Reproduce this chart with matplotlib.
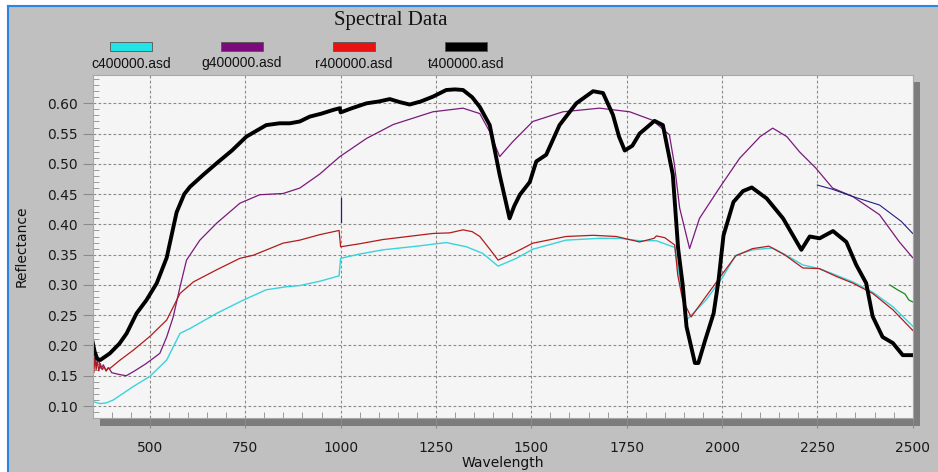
import matplotlib.pyplot as plt
from matplotlib.patches import Rectangle
from matplotlib.lines import Line2D
from matplotlib.ticker import MultipleLocator

# reflectance spectra
wl_c = [350, 352, 369, 385, 404, 430, 456, 500, 544, 579, 605, 675, 745, 805, 858, 893, 945, 996,
        1000, 1050, 1111, 1200, 1277, 1330, 1373, 1413, 1461, 1504, 1591, 1679, 1731, 1784, 1828,
        1876, 1907, 1958, 2002, 2036, 2080, 2133, 2166, 2212, 2255, 2300, 2343, 2395, 2448, 2500]
r_c = [0.110, 0.107, 0.104, 0.105, 0.110, 0.121, 0.132, 0.149, 0.176, 0.220, 0.228, 0.253, 0.275,
       0.292, 0.297, 0.299, 0.306, 0.315, 0.344, 0.351, 0.358, 0.364, 0.370, 0.363, 0.352, 0.331,
       0.344, 0.359, 0.374, 0.377, 0.377, 0.373, 0.373, 0.362, 0.242, 0.275, 0.313, 0.349, 0.358,
       0.361, 0.350, 0.333, 0.327, 0.316, 0.305, 0.288, 0.264, 0.232]

wl_g = [350, 355, 360, 366, 372, 378, 385, 392, 400, 420, 438, 460, 490, 526, 544, 561, 579, 596,
        631, 675, 736, 788, 849, 893, 945, 998, 1068, 1138, 1242, 1321, 1365, 1391, 1417, 1452,
        1504, 1583, 1679, 1758, 1818, 1862, 1875, 1889, 1915, 1941, 1993, 2046, 2100, 2133, 2170,
        2203, 2246, 2290, 2343, 2413, 2465, 2500]
r_g = [0.165, 0.180, 0.170, 0.175, 0.162, 0.168, 0.158, 0.163, 0.155, 0.152, 0.150, 0.158, 0.170,
       0.187, 0.214, 0.247, 0.297, 0.341, 0.374, 0.402, 0.435, 0.449, 0.451, 0.460, 0.483, 0.512,
       0.542, 0.565, 0.586, 0.592, 0.583, 0.553, 0.512, 0.537, 0.570, 0.586, 0.592, 0.586, 0.572,
       0.548, 0.500, 0.427, 0.360, 0.410, 0.460, 0.509, 0.545, 0.559, 0.545, 0.520, 0.493, 0.460,
       0.446, 0.416, 0.371, 0.345]

wl_r = [350, 353, 356, 359, 362, 366, 370, 375, 380, 385, 390, 395, 420, 456, 500, 544, 579, 614,
        675, 736, 771, 849, 893, 945, 996, 1000, 1050, 1111, 1242, 1286, 1321, 1345, 1365, 1390,
        1413, 1461, 1504, 1591, 1662, 1723, 1784, 1822, 1828, 1850, 1876, 1884, 1897, 1919, 1958,
        2002, 2036, 2080, 2123, 2166, 2212, 2255, 2300, 2343, 2395, 2448, 2500]
r_r = [0.170, 0.155, 0.180, 0.160, 0.175, 0.158, 0.170, 0.160, 0.165, 0.158, 0.163, 0.162, 0.175,
       0.192, 0.215, 0.242, 0.286, 0.305, 0.325, 0.344, 0.349, 0.369, 0.374, 0.383, 0.390, 0.363,
       0.368, 0.375, 0.385, 0.386, 0.391, 0.388, 0.380, 0.360, 0.341, 0.355, 0.369, 0.380, 0.382,
       0.380, 0.371, 0.377, 0.381, 0.378, 0.366, 0.316, 0.275, 0.247, 0.281, 0.319, 0.348, 0.360,
       0.364, 0.349, 0.328, 0.327, 0.314, 0.303, 0.286, 0.259, 0.225]

wl_t = [350, 355, 362, 370, 395, 420, 439, 465, 491, 518, 544, 570, 590, 605, 640, 675, 715, 753,
        805, 840, 867, 893, 919, 950, 980, 998, 1000, 1030, 1068, 1100, 1129, 1155, 1181, 1210,
        1242, 1277, 1300, 1321, 1345, 1365, 1391, 1417, 1443, 1455, 1470, 1496, 1513, 1539, 1574,
        1618, 1662, 1688, 1714, 1730, 1745, 1765, 1784, 1823, 1845, 1871, 1885, 1897, 1907, 1929,
        1938, 1956, 1978, 1991, 2004, 2030, 2055, 2078, 2117, 2160, 2208, 2230, 2256, 2291, 2326,
        2352, 2378, 2395, 2421, 2448, 2474, 2500]
r_t = [0.205, 0.190, 0.178, 0.176, 0.187, 0.203, 0.220, 0.253, 0.275, 0.303, 0.345, 0.420, 0.450,
       0.462, 0.482, 0.501, 0.522, 0.545, 0.564, 0.567, 0.567, 0.570, 0.578, 0.583, 0.589, 0.592,
       0.585, 0.592, 0.600, 0.603, 0.607, 0.602, 0.598, 0.603, 0.611, 0.622, 0.623, 0.622, 0.610,
       0.594, 0.564, 0.482, 0.410, 0.430, 0.449, 0.470, 0.504, 0.515, 0.564, 0.600, 0.620, 0.617,
       0.581, 0.545, 0.522, 0.530, 0.550, 0.571, 0.564, 0.482, 0.360, 0.300, 0.231, 0.171, 0.171,
       0.209, 0.253, 0.308, 0.382, 0.437, 0.455, 0.461, 0.443, 0.410, 0.358, 0.380, 0.377, 0.389,
       0.371, 0.333, 0.303, 0.248, 0.214, 0.204, 0.184, 0.184]

# stray traces
wl_navy = [2250, 2290, 2343, 2413, 2470, 2500]
r_navy = [0.465, 0.458, 0.446, 0.432, 0.405, 0.385]
wl_spike = [1000, 1000]
r_spike = [0.404, 0.443]
wl_green = [2440, 2460, 2480, 2490, 2500]
r_green = [0.300, 0.292, 0.285, 0.275, 0.272]

names = ['c400000.asd', 'g400000.asd', 'r400000.asd', 't400000.asd']
line_cols = ['#38d4dc', '#7a1a7a', '#b01c1c', '#000000']
key_cols = ['#22e4e6', '#7b0a7b', '#e81212', '#000000']

W, H = 938, 472
fig = plt.figure(figsize=(W / 100, H / 100), dpi=100)
fig.patch.set_facecolor('white')

# grey panel with blue frame
fig.patches.append(Rectangle((7.5 / W, 0), 1, 1 - 5.5 / H, transform=fig.transFigure,
                             facecolor='#c0c0c0', edgecolor='none', zorder=0))
fig.lines.append(Line2D([7.5 / W, 1], [1 - 5.5 / H] * 2, transform=fig.transFigure,
                        color='#2a86e0', lw=1.5))
fig.lines.append(Line2D([7.5 / W] * 2, [0, 1 - 5.5 / H], transform=fig.transFigure,
                        color='#2a86e0', lw=1.5))

# plot area and its drop shadow
L, R, T, B = 92.7, 912.7, 74.5, 418.3
fig.patches.append(Rectangle(((L + 7) / W, 1 - (B + 7.5) / H), (R - L) / W, (B - T) / H,
                             transform=fig.transFigure, facecolor='#7c7c7c',
                             edgecolor='none', zorder=1))
ax = fig.add_axes([L / W, 1 - B / H, (R - L) / W, (B - T) / H])
ax.set_facecolor('#f5f5f5')
ax.set_zorder(2)

ax.plot(wl_c, r_c, color=line_cols[0], lw=1.0)
ax.plot(wl_g, r_g, color=line_cols[1], lw=0.9)
ax.plot(wl_r, r_r, color=line_cols[2], lw=0.9)
ax.plot(wl_navy, r_navy, color='#202080', lw=0.8)
ax.plot(wl_spike, r_spike, color='#202080', lw=0.9)
ax.plot(wl_green, r_green, color='#1a8a1a', lw=0.9)
ax.plot(wl_t, r_t, color=line_cols[3], lw=2.8, solid_joinstyle='round')

ax.set_xlim(350, 2500)
ax.set_ylim(0.0797, 0.6476)
ax.xaxis.set_major_locator(MultipleLocator(250))
ax.xaxis.set_minor_locator(MultipleLocator(50))
ax.yaxis.set_major_locator(MultipleLocator(0.05))
ax.yaxis.set_minor_locator(MultipleLocator(0.01))
ax.set_xticks([500, 750, 1000, 1250, 1500, 1750, 2000, 2250, 2500])
ax.set_yticks([0.10, 0.15, 0.20, 0.25, 0.30, 0.35, 0.40, 0.45, 0.50, 0.55, 0.60])
ax.set_yticklabels(['%.2f' % v for v in ax.get_yticks()])
ax.grid(True, which='major', color='#8a8a8a', lw=0.8, linestyle=(0, (2.5, 2)))
ax.set_axisbelow(True)
ax.tick_params(which='major', direction='out', length=7, width=0.8, color='#8a8a8a',
               labelsize=10, labelcolor='#1a1a1a', pad=3.5)
ax.tick_params(axis='x', which='major', pad=9)
ax.tick_params(which='minor', direction='in', length=4.5, width=0.7, color='#9a9a9a')
for lab in ax.get_xticklabels() + ax.get_yticklabels():
    lab.set_family('DejaVu Sans')
for s in ax.spines.values():
    s.set_color('#a8a8a8')
    s.set_linewidth(0.8)

# title, key and axis names
fig.text(391 / W, 1 - 20 / H, 'Spectral Data', family='Liberation Serif', fontsize=15,
         ha='center', va='center', color='#111111')
key_x = [131, 242, 354, 466]
for cx, col, name in zip(key_x, key_cols, names):
    fig.patches.append(Rectangle(((cx - 21) / W, 1 - 51 / H), 42 / W, 9 / H,
                                 transform=fig.transFigure, facecolor=col,
                                 edgecolor='#555555', lw=0.6, zorder=3))
    fig.text(cx / W, 1 - 63.5 / H, name, family='Liberation Sans', fontsize=10,
             ha='center', va='center', color='#111111')
fig.text(503 / W, 1 - 463 / H, 'Wavelength', family='DejaVu Sans', fontsize=10,
         ha='center', va='center', color='#111111')
fig.text(22 / W, 1 - 246 / H, 'Reflectance', family='DejaVu Sans', fontsize=10,
         rotation=90, ha='center', va='center', color='#111111')

fig.savefig('out.png', dpi=100, facecolor=fig.get_facecolor())
